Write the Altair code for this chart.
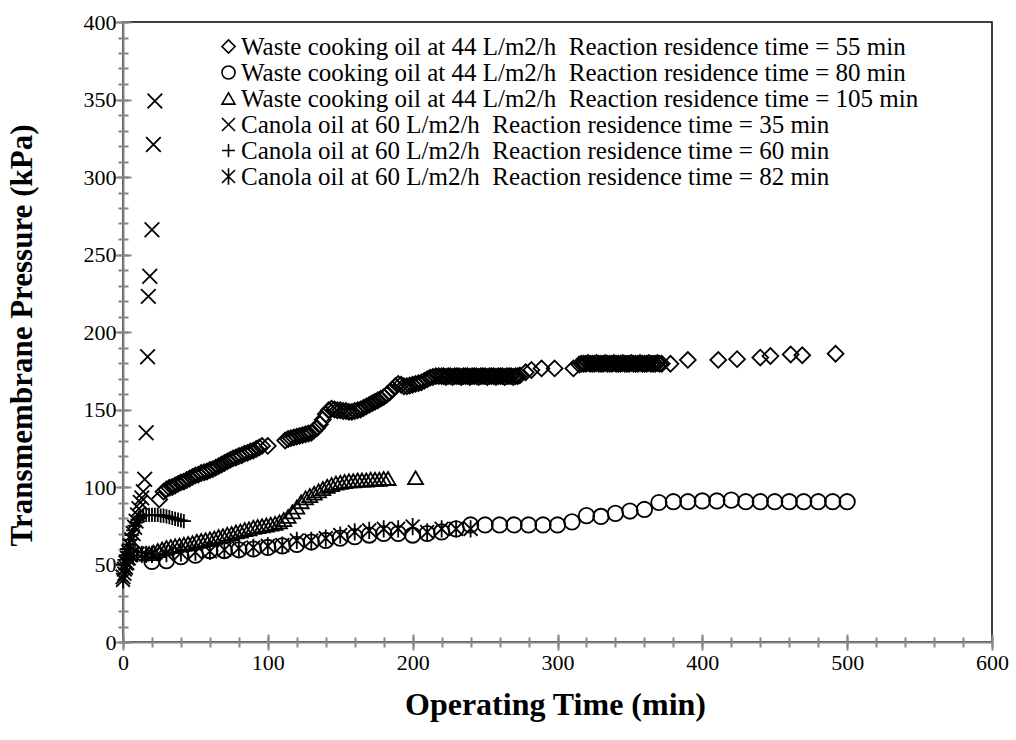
import altair as alt
import pandas as pd

SERIES = [
    "Waste cooking oil at 44 L/m2/h\u00a0 Reaction residence time = 55 min",
    "Waste cooking oil at 44 L/m2/h\u00a0 Reaction residence time = 80 min",
    "Waste cooking oil at 44 L/m2/h\u00a0 Reaction residence time = 105 min",
    "Canola oil at 60 L/m2/h\u00a0 Reaction residence time = 35 min",
    "Canola oil at 60 L/m2/h\u00a0 Reaction residence time = 60 min",
    "Canola oil at 60 L/m2/h\u00a0 Reaction residence time = 82 min",
]

# WCO 55 min (diamonds)
x_d = [25, 28, 30, 32, 34, 36, 38, 40, 42, 44, 46, 48, 50, 52, 54, 56, 58, 60, 62, 64, 66, 68, 70, 72, 74, 76, 78, 80,
       82, 84, 86, 88, 90, 92, 94, 96, 100,
       112, 114, 116, 118, 120, 122, 124, 126, 128, 130, 132, 134, 136, 138, 140, 142, 144, 146, 148, 150, 152, 154,
       156, 158, 160, 162, 164, 166, 168, 170, 172, 174, 176, 178, 180, 182, 184, 186, 188, 190, 192, 194, 196, 198,
       200, 202, 204, 206, 208, 210, 212, 214, 216, 218,
       220, 221.5, 223, 224.5, 226, 227.5, 229, 230.5, 232, 233.5, 235, 236.5, 238, 239.5, 241, 242.5, 244, 245.5,
       247, 248.5, 250, 251.5, 253, 254.5, 256, 257.5, 259, 260.5, 262, 263.5, 265, 266.5, 268, 269.5, 271, 272.5, 274,
       278, 282, 289, 298, 311,
       315, 316.5, 318, 319.5, 321, 322.5, 324, 325.5, 327, 328.5, 330, 331.5, 333, 334.5, 336, 337.5, 339, 340.5,
       342, 343.5, 345, 346.5, 348, 349.5, 351, 352.5, 354, 355.5, 357, 358.5, 360, 361.5, 363, 364.5, 366, 367.5,
       369, 370.5, 372,
       378, 390, 411, 424, 440, 447, 461, 469, 492]
y_d = [92, 97, 98.5, 99.5, 100, 101, 102, 103, 103.5, 104.5, 105.5, 106.5, 107.5, 108, 109, 109.5, 110, 111, 111.5,
       112.5, 113.5, 114.5, 115.5, 116.5, 117.5, 118.5, 119, 120, 120.5, 121.5, 122, 123, 123.5, 124.5, 125.5, 126.5,
       126.5,
       130, 131, 131.5, 132, 132.5, 133, 133.5, 134, 134.5, 135, 136.5, 138, 140.5, 143.5, 147, 149.5, 150.5, 150,
       149.5, 149.5, 149, 149, 148.5, 148.5, 149, 149.5, 150, 151, 152, 153, 154, 155, 156, 157, 158, 159.5, 161, 163,
       165, 166.5, 166, 165, 165, 165.5, 166, 166.5, 167, 167.5, 168.5, 169.5, 170.5, 171, 171.5, 171.5,
       171.5, 171.5, 171, 171.5, 171.5, 171, 171.5, 171.5, 171.5, 171, 171.5, 171.5, 171.5, 171, 171.5, 171.5,
       171.5, 171, 171.5, 171.5, 171.5, 171, 171.5, 171.5, 171.5, 171, 171.5, 171.5, 171.5, 171, 171.5, 171.5,
       171.5, 171, 171.5, 171.5, 172,
       174, 175.5, 176.5, 176.5, 176.5,
       179, 179.5, 179.5, 179.5, 180, 179.5, 179.5, 179.5, 180, 179.5, 179.5, 179.5, 180, 179.5, 179.5, 179.5, 180,
       179.5, 179.5, 179.5, 180, 179.5, 179.5, 179.5, 180, 179.5, 179.5, 179.5, 180, 179.5, 179.5, 179.5, 180,
       179.5, 179.5, 179.5, 180, 179.5, 179.5,
       179.5, 182, 182, 182.5, 183.5, 184.5, 185.5, 185, 186]

# WCO 80 min (circles)
x_c = [20, 30, 40, 50, 60, 70, 80, 90, 100, 110, 120, 130, 140, 150, 160, 170, 180, 190, 200, 210, 220, 230, 240,
       250, 260, 270, 280, 290, 300, 310, 320, 330, 340, 350, 360, 370, 380, 390, 400, 410, 420, 430, 440, 450, 460,
       470, 480, 490, 500]
y_c = [52, 52.5, 55, 56, 59, 59, 59.5, 60, 61, 62, 63, 64.5, 65.5, 67, 68, 69, 70, 70, 69, 70, 71, 73, 75.5,
       75.5, 75.5, 75.5, 75.5, 75.5, 75.5, 77.5, 81.5, 81, 83, 84.5, 85.5, 90, 90.5, 90.5, 91, 91, 91.5, 90.5, 90.5,
       90.5, 90.5, 90.5, 90.5, 90.5, 90.5]

# WCO 105 min (triangles)
x_t = [18, 21, 24, 27, 30, 33, 36, 39, 42, 45, 48, 51, 54, 57, 60, 63, 66, 69, 72, 75, 78, 81, 84, 87, 90, 93, 96,
       99, 102, 105, 108, 111, 114, 117, 120, 123, 126, 129, 132, 135, 138, 141, 144, 147, 150, 153, 156, 159, 162,
       165, 168, 171, 174, 177, 180, 183, 202]
y_t = [57, 58, 59, 60, 61, 61.5, 62, 62.5, 63, 63.5, 64, 65, 65.5, 66, 66.5, 67, 68, 68.5, 69.5, 70, 71, 71.5,
       72.5, 73, 74, 74.5, 75, 75.5, 76, 76.5, 77.5, 79, 81, 84, 87, 90.5, 93, 94.5, 96, 97.5, 99, 100.5, 101.5,
       102.5, 103, 103.5, 104, 104, 104.5, 104.5, 104.5, 105, 105, 105, 105.5, 105.5, 106]

# Canola 35 min (x marks)
x_x = [0, 1, 2, 3, 4, 5, 6, 7, 8, 9, 10, 11, 12, 13, 14, 15, 16, 17, 17.5, 18.5, 20, 21, 22]
y_x = [42, 47, 51, 54, 58, 62, 66, 70, 74, 78, 82, 86, 90, 93, 97, 105, 135, 184, 223, 236, 266, 321, 349]

# Canola 60 min (plus)
x_p = [0, 1, 2, 3, 4, 5, 6, 7, 8, 9, 10, 11, 12, 14, 16, 18, 20, 22, 24, 26, 28, 30, 32, 34, 36, 38, 40, 42]
y_p = [50, 53, 56, 60, 63, 66, 69, 72, 75, 77, 79, 80, 81, 81.5, 82, 82, 82, 82, 82, 81.5, 81.5, 81, 80.5, 80,
       79.5, 79, 78.5, 78]

# Canola 82 min (asterisks)
x_a = [0, 1, 2, 3, 4, 5, 7, 10, 13, 16, 20, 30, 40, 50, 60, 70, 80, 90, 100, 110, 120, 130, 140, 150, 160, 170,
       180, 190, 200, 210, 220, 230, 240]
y_a = [40, 44, 48, 51, 54, 56, 57, 57, 56.5, 56.5, 56.5, 57, 57.5, 58, 58.5, 59.5, 60.5, 61, 62, 62.5, 65.5, 65.5,
       67, 69, 71, 72, 73, 73, 74.5, 71, 73, 73, 73]

X_TICKS = [0, 100, 200, 300, 400, 500, 600]
Y_TICKS = [0, 50, 100, 150, 200, 250, 300, 350, 400]
X_MINOR = list(range(0, 601, 20))
Y_MINOR = list(range(0, 401, 10))

frames = []
for i, (name, xs_, ys_) in enumerate(zip(SERIES, [x_d, x_c, x_t, x_x, x_p, x_a], [y_d, y_c, y_t, y_x, y_p, y_a])):
    frames.append(pd.DataFrame({"t": xs_, "p": ys_, "series": name, "sid": i}))
df = pd.concat(frames, ignore_index=True)

SHAPES = ["diamond", "circle", "triangle-up",
          "M-1,-1L1,1M1,-1L-1,1",
          "M-1,0L1,0M0,-1L0,1",
          "M-1,-1L1,1M1,-1L-1,1M0,-1.25L0,1.25"]
SIZES = [250, 190, 200, 190, 150, 170]

GRAY = "#868686"
xs = alt.Scale(domain=[0, 600], nice=False, zero=False)
ys = alt.Scale(domain=[0, 400], nice=False, zero=False)

base = alt.Chart(df)

points = base.mark_point(filled=False, color="black", strokeWidth=1.8, opacity=1).encode(
    x=alt.X("t:Q", scale=xs, axis=alt.Axis(
        orient="bottom", values=X_TICKS, ticks=False, tickSize=0, domain=True, domainColor=GRAY, domainWidth=2,
        labelFont="Liberation Serif", labelFontSize=22, labelColor="black", labelPadding=10, labelFlush=False,
        grid=False, title="Operating Time (min)", titleFont="Liberation Serif", titleFontSize=32,
        titleFontWeight="bold", titleColor="black", titleX=432, titleY=62, titleBaseline="middle",
        titleAlign="center")),
    y=alt.Y("p:Q", scale=ys, axis=alt.Axis(
        orient="left", values=Y_TICKS, ticks=False, tickSize=0, domain=True, domainColor=GRAY, domainWidth=2,
        labelFont="Liberation Serif", labelFontSize=22, labelColor="black", labelPadding=7, labelFlush=False,
        grid=False, title="Transmembrane Pressure (kPa)", titleFont="Liberation Serif", titleFontSize=31,
        titleFontWeight="bold", titleColor="black", titleX=-101, titleY=313, titleBaseline="middle",
        titleAlign="center", titleAngle=270)),
    shape=alt.Shape("series:N", scale=alt.Scale(domain=SERIES, range=SHAPES), legend=alt.Legend(
        title=None, orient="none", legendX=93, legendY=12, labelFont="Liberation Serif", labelFontSize=25,
        labelColor="black", symbolSize=170, symbolStrokeWidth=1.6, symbolStrokeColor="black",
        symbolFillColor="transparent", rowPadding=0, labelOffset=0, padding=0,
        labelLimit=900)),
    size=alt.Size("sid:O", scale=alt.Scale(domain=[0, 1, 2, 3, 4, 5], range=SIZES), legend=None),
    order=alt.Order("sid:Q"),
)


def tick_layer(xvals, yvals, off, size):
    return base.mark_point(opacity=0).encode(
        x=alt.X("t:Q", scale=xs, axis=alt.Axis(
            orient="bottom", values=xvals, offset=off, tickSize=size, tickColor=GRAY, tickWidth=2,
            labels=False, domain=False, grid=False, title=None)),
        y=alt.Y("p:Q", scale=ys, axis=alt.Axis(
            orient="left", values=yvals, offset=off, tickSize=size, tickColor=GRAY, tickWidth=2,
            labels=False, domain=False, grid=False, title=None)),
    )


minor = tick_layer(X_MINOR, Y_MINOR, -5, 10)
major = tick_layer(X_TICKS, Y_TICKS, -8, 16)

chart = alt.layer(minor, major, points).resolve_axis(x="independent", y="independent").properties(
    width=869, height=620,
    autosize=alt.AutoSizeParams(type="none"),
    padding={"left": 123, "top": 22, "right": 24, "bottom": 98},
    background="white",
).configure_view(stroke="black", strokeWidth=1.5)

chart.save("out.html", embed_options={"renderer": "svg", "actions": False})
